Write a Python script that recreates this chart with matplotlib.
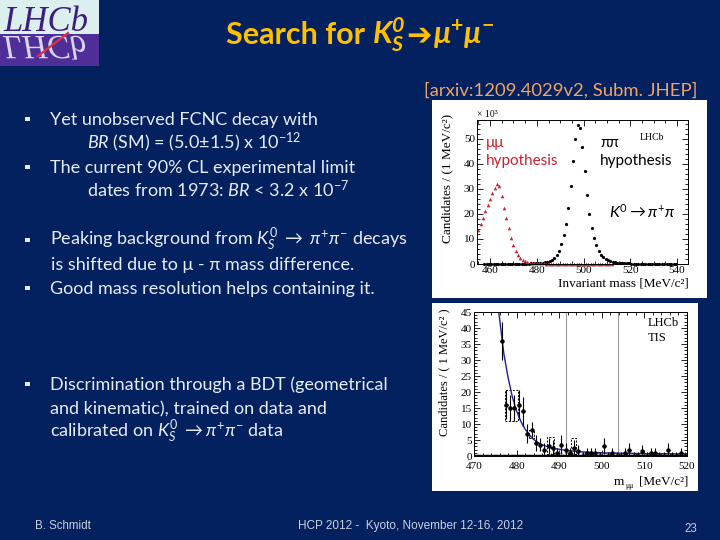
import matplotlib
matplotlib.use('Agg')
import matplotlib.pyplot as plt
from matplotlib.patches import Rectangle, PathPatch
from matplotlib.textpath import TextPath
from matplotlib.font_manager import FontProperties
from matplotlib.ticker import MultipleLocator

plt.rcParams['mathtext.fontset'] = 'custom'
plt.rcParams['mathtext.rm'] = 'Lato'
plt.rcParams['mathtext.it'] = 'Lato:italic'
plt.rcParams['mathtext.bf'] = 'Lato:bold'
plt.rcParams['mathtext.bfit'] = 'Lato:italic:bold'

NAVY = '#03215f'
TXT = '#e6ecf4'
YEL = '#ffc000'
ORANGE = '#eea46a'
RED = '#c8202c'

# ---------------- data: top panel (x10^3 candidates per MeV) -------------
red_mass = [455, 456, 457, 458, 459, 460, 461, 462, 463, 464, 465, 466, 467, 468,
            469, 470, 471, 472, 473, 474, 475, 476, 477, 478, 479, 480, 481, 482,
            483, 484, 485, 486, 487, 488, 489, 490, 491, 492, 493, 494, 495, 496,
            497, 498, 499, 500, 501, 502, 503, 504, 505, 506, 507, 508, 509, 510,
            511, 512]
red_vals = [13.5, 16.0, 18.5, 21.0, 23.5, 26.0, 28.5, 30.5, 32.0, 31.0, 27.0, 22.5,
            18.5, 14.5, 10.5, 7.5, 5.2, 3.5, 2.3, 1.5, 1.0, 0.7, 0.5, 0.4, 0.3,
            0.25, 0.22, 0.2, 0.2, 0.18, 0.17, 0.15, 0.15, 0.14, 0.13, 0.12, 0.12,
            0.1, 0.1, 0.1, 0.1, 0.1, 0.1, 0.1, 0.1, 0.1, 0.1, 0.1, 0.08, 0.08,
            0.08, 0.07, 0.07, 0.06, 0.06, 0.05, 0.05, 0.05]
blk_mass = [457.5, 458.5, 459.5, 460.5, 461.5, 462.5, 463.5, 464.5, 465.5, 466.5,
            467.5, 468.5, 469.5, 470.5, 471.5, 472.5, 473.5, 474.5, 475.5,
            476.5, 477.5, 478.5, 479.5, 480.5, 481.5, 482.5, 483.5, 484.5, 485.5,
            486.5, 487.5, 488.5, 489.5, 490.5, 491.5, 492.5, 493.5, 494.5, 495.5,
            496.5, 497.5, 498.5, 499.5, 500.5, 501.5, 502.5, 503.5, 504.5, 505.5,
            506.5, 507.5, 508.5, 509.5, 510.5, 511.5, 512.5, 513.5, 514.5, 515.5,
            516.5, 517.5, 518.5, 519.5, 520.5, 521.5, 522.5, 523.5, 524.5, 525.5,
            526.5, 527.5, 528.5, 529.5, 530.5, 531.5, 532.5, 533.5, 534.5, 535.5,
            536.5, 537.5, 538.5, 539.5]
blk_vals = [0.04, 0.04, 0.05, 0.05, 0.05, 0.05, 0.05, 0.06, 0.06, 0.06, 0.07, 0.07,
            0.08, 0.08, 0.09, 0.1, 0.11, 0.12, 0.15, 0.18, 0.2, 0.25, 0.3, 0.35,
            0.4, 0.5, 0.65, 0.85, 1.2, 1.7, 2.5, 3.6, 5.2, 8.0, 11.5, 15.8, 22.5,
            31.0, 41.0, 50.0, 55.5, 54.3, 46.8, 37.0, 27.5, 20.0, 14.2, 10.5, 7.4,
            5.2, 3.7, 2.7, 2.0, 1.5, 1.1, 0.85, 0.65, 0.5, 0.4, 0.33, 0.28, 0.24,
            0.2, 0.19, 0.18, 0.17, 0.15, 0.14, 0.13, 0.12, 0.12, 0.11, 0.1, 0.1,
            0.1, 0.09, 0.09, 0.08, 0.08, 0.07, 0.07, 0.06, 0.06]
top_xticks = [460, 480, 500, 520, 540]
top_yticks = [0, 10, 20, 30, 40, 50]

# ---------------- data: bottom panel -------------------------------------
bin_x = [476.5, 477.5, 478.5, 479.5, 480.5, 481.5, 482.5, 483.5, 484.5, 485.5,
         486.5, 487.5, 488.5, 489.5, 490.5, 491.5, 492.5, 493.5, 494.5, 495.5,
         496.5, 497.5, 498.5, 499.5, 500.5, 501.5, 502.5, 503.5, 504.5, 505.5,
         506.5, 507.5, 508.5, 509.5, 510.5, 511.5, 512.5, 513.5, 514.5, 515.5,
         516.5, 517.5, 518.5, 519.5]
bin_y = [36, 16, 15, 15, 16, 14, 7, 8, 4, 3.5, 2, 3, 2.5, 1, 3.5, 2, 1, 2.5, 1.5,
         0, 1, 1, 1, 0, 3, 0, 1, 0, 0, 1, 2, 0, 0, 1.5, 0, 1, 1, 0, 0, 2, 0, 0, 1, 0]
bin_err = [6, 4.5, 4, 4, 4.5, 4.5, 3, 2.5, 2.5, 2, 2, 2.5, 2.5, 1.5, 3, 2, 1.5,
           2.5, 2, 1.2, 1.5, 1.5, 1.5, 1.2, 2.5, 1.2, 1.5, 1.2, 1.2, 1.5, 2, 1.2,
           1.2, 1.8, 1.2, 1.5, 1.5, 1.2, 1.2, 2, 1.2, 1.2, 1.5, 1.2]
fit_x = [475.8, 476, 477, 478, 479, 480, 481, 482, 483, 484, 485, 486, 487, 488,
         489, 490, 491, 492, 494, 496, 498, 500, 505, 510, 515, 520]
fit_y = [45, 43, 32, 24.5, 18.5, 14, 10.8, 8.4, 6.6, 5.2, 4.2, 3.5, 3.0, 2.6, 2.3,
         2.1, 1.9, 1.7, 1.45, 1.25, 1.1, 1.0, 0.85, 0.75, 0.7, 0.65]
bkg_x = [490, 500, 510, 520]
bkg_y = [0.9, 0.8, 0.7, 0.65]
box_x0 = [477.2, 483.0, 487.2, 492.8]
box_x1 = [480.4, 484.2, 488.8, 494.0]
box_lo = [11.0, 5.5, 0.5, 0.5]
box_hi = [20.5, 8.0, 5.8, 5.5]
window = [491.7, 503.7]
bot_xticks = [470, 480, 490, 500, 510, 520]
bot_yticks = [0, 5, 10, 15, 20, 25, 30, 35, 40, 45]

# ---------------- slide text ---------------------------------------------
title_parts = [
    ("Search for ", dict(family='Lato', fontweight='bold'), 0),
    (r"$\mathbfit{K}^{\mathbfit{0}}_{\mathbfit{S}}$", dict(), 1),
    ("➔", dict(family='DejaVu Sans', fontweight='bold'), 1),
    (r"$\mathbfit{\mu}^{\mathbf{+}}\mathbfit{\mu}^{\mathbf{-}}$", dict(), 0),
]
subtitle = "[arxiv:1209.4029v2, Subm. JHEP]"
bullet_lines = [
    (50, 119, True, "Yet unobserved FCNC decay with"),
    (87, 143, False, r"$\mathit{BR}$ (SM) = (5.0±1.5) x 10$^{-12}$"),
    (50, 167, True, "The current 90% CL experimental limit"),
    (87, 191, False, r"dates from 1973: $\mathit{BR}$ < 3.2 x 10$^{-7}$"),
    (50, 240, True, r"Peaking background from $K^0_S$ $\rightarrow$ $\pi^{+}\pi^{-}$ decays"),
    (51, 264, False, "is shifted due to μ - π mass difference."),
    (50, 288, True, "Good mass resolution helps containing it."),
    (50, 384, True, "Discrimination through a BDT (geometrical"),
    (50, 408, False, "and kinematic), trained on data and"),
    (50, 432, False, r"calibrated on $K^0_S$ $\rightarrow$$\pi^{+}\pi^{-}$ data"),
]
footer_left = "B. Schmidt"
footer_mid = "HCP 2012 -  Kyoto, November 12-16, 2012"
footer_page = "23"

# ---------------- figure ---------------------------------------------------
fig = plt.figure(figsize=(7.2, 5.4), dpi=100)
fig.patch.set_facecolor(NAVY)
bg = fig.add_axes([0, 0, 1, 1], zorder=0)
bg.set_xlim(0, 720)
bg.set_ylim(540, 0)
bg.axis('off')
renderer = fig.canvas.get_renderer()

# logo
bg.add_patch(Rectangle((0, 0), 99, 34, fc='#dcefef', ec='none'))
bg.add_patch(Rectangle((0, 34), 99, 32, fc='#4f2e98', ec='none'))
bg.text(3, 31, 'LHCb', family='Liberation Serif', style='italic', fontsize=25,
        color='#3b1f7c', va='baseline')
lp = FontProperties(family='Liberation Serif', style='italic')
tp = TextPath((3, 36), 'LHCb', size=34, prop=lp)
bg.add_patch(PathPatch(tp, fc='#d8d4f2', ec='none'))
bg.plot([38, 68], [56, 33], color='#e0303a', lw=1.6)

# title built from pieces so the arrow can be a heavy glyph
pieces = []
xcur = 0.0
for s, kw, gap in title_parts:
    t = bg.text(xcur, 44, s, color=YEL, fontsize=22, va='baseline', ha='left', **kw)
    w = t.get_window_extent(renderer).width
    pieces.append(t)
    xcur += w + gap
total = xcur
x0 = 360 - total / 2
for t in pieces:
    t.set_x(t.get_position()[0] + x0)

bg.text(697, 96, subtitle, color=ORANGE, fontsize=13.3, family='Lato',
        ha='right', va='baseline')

# bullets
for x, y, has_bullet, s in bullet_lines:
    if has_bullet:
        bg.add_patch(Rectangle((25, y - 2.5), 4.5, 4.5, fc=TXT, ec='none'))
    bg.text(x, y + 6, s, color=TXT, fontsize=13, family=['Lato', 'DejaVu Sans'],
            va='baseline')

# footer
bg.text(35, 529, footer_left, color='#c8d0e0', fontsize=8.3,
        family='Liberation Sans', va='baseline')
bg.text(411, 529, footer_mid, color='#c8d0e0', fontsize=8.5,
        family='Liberation Sans', va='baseline', ha='center')
bg.text(697, 532, footer_page, color='#c8d0e0', fontsize=8.3,
        family='Liberation Sans', va='baseline', ha='right')

# white panels
bg.add_patch(Rectangle((432, 100), 275, 198, fc='white', ec='none'))
bg.add_patch(Rectangle((432, 303), 266, 188, fc='white', ec='none'))

SERIF = 'Liberation Serif'


def style_axes(ax, xpad=1.5):
    ax.tick_params(which='both', direction='in', top=True, right=True,
                   labelsize=8, length=4, width=0.6, pad=1.5)
    ax.tick_params(axis='x', which='both', pad=xpad)
    ax.tick_params(which='minor', length=2)
    for lab in ax.get_xticklabels() + ax.get_yticklabels():
        lab.set_family(SERIF)
    for sp in ax.spines.values():
        sp.set_linewidth(0.7)


# top plot
ax1 = fig.add_axes([477 / 720, 1 - 264 / 540, 211 / 720, 144 / 540], zorder=2)
ax1.set_facecolor('white')
ax1.plot(blk_mass, blk_vals, 'o', color='black', ms=2.3, mew=0, clip_on=False)
ax1.plot(red_mass, red_vals, '^', color=RED, ms=2.6, mew=0, clip_on=False)
ax1.set_xlim(454.4, 544.7)
ax1.set_ylim(0, 57.5)
ax1.set_xticks(top_xticks)
ax1.set_yticks(top_yticks)
ax1.xaxis.set_minor_locator(MultipleLocator(5))
ax1.yaxis.set_minor_locator(MultipleLocator(2))
style_axes(ax1)
ax1.text(0.0, 1.01, '× 10³', transform=ax1.transAxes, family=SERIF, fontsize=7,
         va='bottom', ha='left')
ax1.text(486, 143, 'μμ', color=RED, fontsize=11, family=['Lato', 'DejaVu Sans'],
         transform=bg.transData, va='center')
ax1.text(486, 161, 'hypothesis', color=RED, fontsize=11, family='Lato',
         transform=bg.transData, va='center')
ax1.text(600, 143, 'ππ', color='black', fontsize=11, family=['Lato', 'DejaVu Sans'],
         transform=bg.transData, va='center')
ax1.text(600, 161, 'hypothesis', color='black', fontsize=11, family='Lato',
         transform=bg.transData, va='center')
ax1.text(640, 137, 'LHCb', color='black', fontsize=7, family=SERIF,
         transform=bg.transData, va='center')
ax1.text(609, 212, r'$K^0 \rightarrow \pi^{+}\pi$', color='black', fontsize=11.5,
         transform=bg.transData, va='center')
fig.text(689 / 720, 1 - 287 / 540, 'Invariant mass [MeV/c²]', family=SERIF,
         fontsize=9.5, ha='right', va='baseline')
fig.text(447 / 720, 1 - 178 / 540, 'Candidates / (1 MeV/c²)', family=SERIF,
         fontsize=9.5, ha='center', va='center', rotation=90)

# bottom plot
ax2 = fig.add_axes([474 / 720, 1 - 456 / 540, 213 / 720, 144 / 540], zorder=2)
ax2.set_facecolor('white')
ylo = [min(v, e) for v, e in zip(bin_y, bin_err)]
for bx0, bx1, lo, hi in zip(box_x0, box_x1, box_lo, box_hi):
    ax2.add_patch(Rectangle((bx0, lo), bx1 - bx0, hi - lo, fill=False, ec='black',
                            lw=0.7, ls=(0, (2, 1.5))))
for xv in window:
    ax2.axvline(xv, color='#9a9a9a', lw=0.8)
ax2.plot(bkg_x, bkg_y, ls=(0, (3, 2)), color='#6a7acc', lw=0.8)
ax2.plot(fit_x, fit_y, color='#1f1f9c', lw=1.0)
ax2.errorbar(bin_x, bin_y, yerr=[ylo, bin_err], xerr=0.4, fmt='o', ms=2.2,
             color='black', elinewidth=0.8, capsize=0)
ax2.axhline(0, color='black', lw=2.5)
ax2.set_xlim(470, 520)
ax2.set_ylim(0, 45)
ax2.set_xticks(bot_xticks)
ax2.set_yticks(bot_yticks)
ax2.xaxis.set_minor_locator(MultipleLocator(2))
ax2.yaxis.set_minor_locator(MultipleLocator(1))
style_axes(ax2, xpad=4)
ax2.text(648, 323, 'LHCb', color='black', fontsize=9, family=SERIF,
         transform=bg.transData, va='center')
ax2.text(648, 338, 'TIS', color='black', fontsize=9, family=SERIF,
         transform=bg.transData, va='center')
bg.text(614, 485, 'm', family=SERIF, fontsize=9.5, ha='left', va='baseline',
        color='black', zorder=5)
bg.text(625, 488, 'μμ', family=SERIF, fontsize=5.5, ha='left', va='baseline',
        color='black', zorder=5)
bg.text(688, 485, '[MeV/c²]', family=SERIF, fontsize=9.5, ha='right',
        va='baseline', color='black', zorder=5)
fig.text(444 / 720, 1 - 372 / 540, 'Candidates / ( 1 MeV/c² )', family=SERIF,
         fontsize=9, ha='center', va='center', rotation=90)

fig.savefig('out.png', dpi=100, facecolor=NAVY)
